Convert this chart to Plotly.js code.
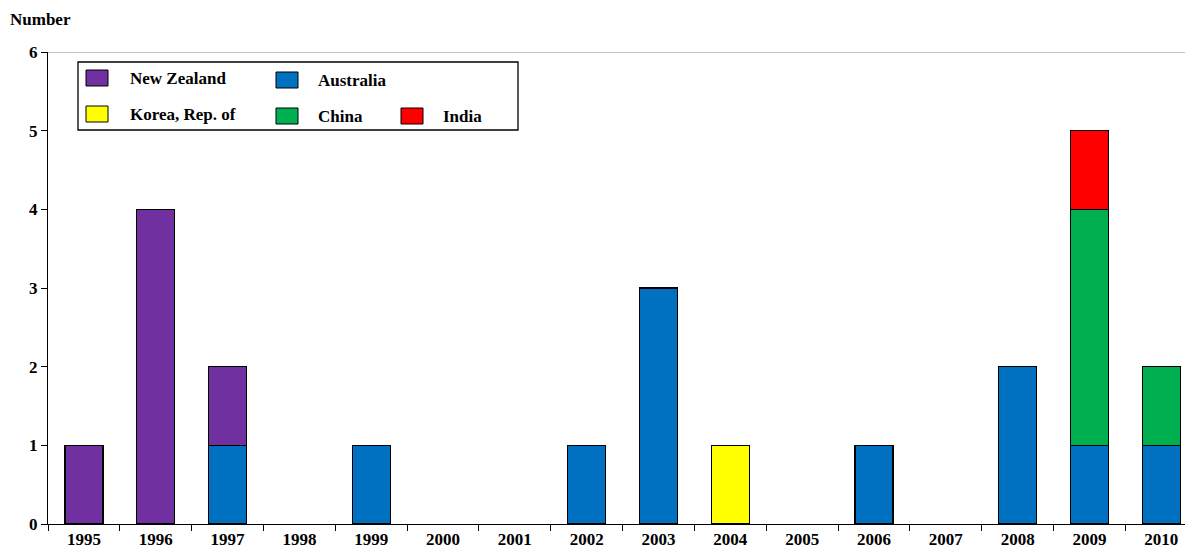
<!DOCTYPE html>
<html><head><meta charset="utf-8">
<script src="https://cdn.plot.ly/plotly-3.0.1.min.js"></script>
<style>body{margin:0}</style></head><body>
<div id="c" style="width:1185px;height:559px"></div>
<script>
const years=['1995','1996','1997','1998','1999','2000','2001','2002','2003','2004','2005','2006','2007','2008','2009','2010'];
const australia=[0,0,1,0,1,0,0,1,3,0,0,1,0,2,1,1];
const newZealand=[1,4,1,0,0,0,0,0,0,0,0,0,0,0,0,0];
const korea=[0,0,0,0,0,0,0,0,0,1,0,0,0,0,0,0];
const china=[0,0,0,0,0,0,0,0,0,0,0,0,0,0,3,1];
const india=[0,0,0,0,0,0,0,0,0,0,0,0,0,0,1,0];
const series=[['Australia',australia,'#0070C0'],['New Zealand',newZealand,'#7030A0'],['Korea, Rep. of',korea,'#FFFF00'],['China',china,'#00B050'],['India',india,'#FF0000']];
const data=series.map(([n,v,c])=>({type:'bar',name:n,x:years,y:v.map(a=>a||null),marker:{color:c,line:{color:'#000',width:1.3}},width:0.53,showlegend:false}));
const L=48,W=1137,T=52,H=472;
const px=x=>(x-L)/W, py=y=>(T+H-y)/H;
const shapes=[
 {type:'line',xref:'paper',yref:'y',x0:0,x1:1,y0:6,y1:6,line:{color:'#888',width:1}},
 {type:'rect',xref:'paper',yref:'paper',x0:px(78),x1:px(518),y0:py(130),y1:py(62),line:{color:'#000',width:1.3},fillcolor:'#fff'}];
const annotations=[{text:'<b>Number</b>',xref:'paper',yref:'paper',x:px(8),y:py(20),xanchor:'left',yanchor:'middle',showarrow:false,font:{size:17}}];
const leg=[['New Zealand','#7030A0',86,128,78],['Australia','#0070C0',276,316,80],['Korea, Rep. of','#FFFF00',86,128,114],['China','#00B050',276,316,116],['India','#FF0000',401,441,116]];
leg.forEach(([n,c,sx,tx,cy])=>{
 shapes.push({type:'rect',xref:'paper',yref:'paper',x0:px(sx),x1:px(sx+22),y0:py(cy+8),y1:py(cy-8),fillcolor:c,line:{color:'#000',width:1}});
 annotations.push({text:'<b>'+n+'</b>',xref:'paper',yref:'paper',x:px(tx),y:py(cy+1),xanchor:'left',yanchor:'middle',showarrow:false,font:{size:17}});
});
Plotly.newPlot('c',data,{
 width:1185,height:559,barmode:'stack',margin:{l:L,r:0,t:T,b:35},
 font:{family:'Liberation Serif',size:17,color:'#000'},
 paper_bgcolor:'#fff',plot_bgcolor:'#fff',
 xaxis:{type:'category',range:[-0.5,15.33],showline:true,linecolor:'#000',linewidth:1,ticks:'outside',tickson:'boundaries',ticklen:6,tickcolor:'#000',tickfont:{size:17,weight:'bold'},showgrid:false},
 yaxis:{range:[0,6],dtick:1,showline:true,linecolor:'#000',linewidth:1,ticks:'outside',ticklen:6,tickcolor:'#000',tickfont:{size:17,weight:'bold'},showgrid:false,zeroline:false},
 shapes,annotations
},{staticPlot:true});
</script></body></html>
